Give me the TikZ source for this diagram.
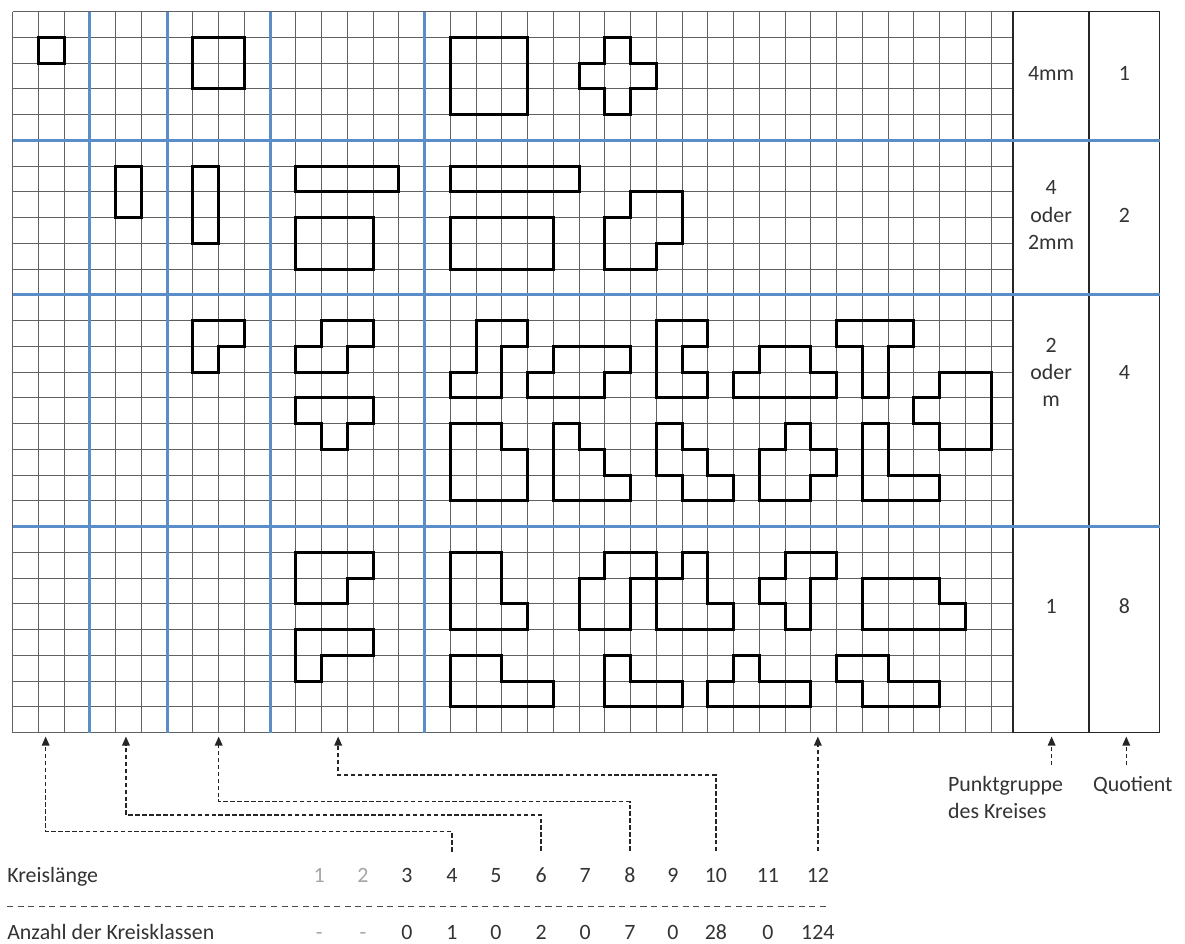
\documentclass[tikz,border=0pt]{standalone}
\usepackage{fontspec}
\setmainfont{Carlito}
\usetikzlibrary{arrows.meta}
\definecolor{linhaazul}{HTML}{5B8DC9}

\begin{document}
\begin{tikzpicture}[x=0.6cm, y=-0.6cm,
  grade/.style={draw=black!62, line width=0.6pt},
  azul/.style={draw=linhaazul, line width=2pt},
  peca/.style={draw=black, line width=1.9pt},
  seta/.style={draw=black!85, line width=1pt,
    dash pattern=on 3pt off 1.6pt,
    -{Triangle[length=6pt,width=5pt]}},
  rotulo/.style={inner sep=0pt, text=black!80,
    font=\fontsize{14.5}{18}\selectfont},
  cinza/.style={rotulo, text=black!35}]

% Fundo
\fill[white]
(-0.493,-0.454) rectangle (45.53,36.2);

% GRADE
\foreach \i in {0,...,38}
  \draw[grade] (\i,0) -- (\i,28);
\foreach \j in {0,...,28}
  \draw[grade] (0,\j) -- (38.85,\j);

% TABELA
\draw[black!85, line width=0.8pt]
(38.85,0) rectangle (44.55,28);
\draw[black!85, line width=0.8pt]
(41.8,0) -- (41.8,28);

% LINHAS AZUIS
\foreach \i in {3,6,10,16}
  \draw[azul] (\i,0) -- (\i,28);
\foreach \j in {5,11,20}
  \draw[azul] (0,\j) -- (44.55,\j);

% BLOCO 4mm
\draw[peca] (1,1) rectangle (2,2);
\draw[peca] (7,1) rectangle (9,3);
\draw[peca] (17,1) rectangle (20,4);
\draw[peca] (23,1) -- (24,1) -- (24,2) -- (25,2) -- (25,3) -- (24,3)
  -- (24,4) -- (23,4) -- (23,3) -- (22,3) -- (22,2) -- (23,2) -- cycle;

% BLOCO 4 oder 2mm
\draw[peca] (4,6) rectangle (5,8);
\draw[peca] (7,6) rectangle (8,9);
\draw[peca] (11,6) rectangle (15,7);
\draw[peca] (11,8) rectangle (14,10);
\draw[peca] (17,6) rectangle (22,7);
\draw[peca] (17,8) rectangle (21,10);
\draw[peca] (24,7) -- (26,7) -- (26,9) -- (25,9) -- (25,10) -- (23,10)
  -- (23,8) -- (24,8) -- cycle;

% BLOCO 2 oder m
\draw[peca] (7,12) -- (9,12) -- (9,13) -- (8,13) -- (8,14) -- (7,14) -- cycle;
\draw[peca] (12,12) -- (14,12) -- (14,13) -- (13,13) -- (13,14) -- (11,14)
  -- (11,13) -- (12,13) -- cycle;
\draw[peca] (11,15) -- (14,15) -- (14,16) -- (13,16) -- (13,17) -- (12,17)
  -- (12,16) -- (11,16) -- cycle;
\draw[peca] (18,12) -- (20,12) -- (20,13) -- (19,13) -- (19,15) -- (17,15)
  -- (17,14) -- (18,14) -- cycle;
\draw[peca] (21,13) -- (24,13) -- (24,14) -- (23,14) -- (23,15) -- (20,15)
  -- (20,14) -- (21,14) -- cycle;
\draw[peca] (25,12) -- (27,12) -- (27,13) -- (26,13) -- (26,14) -- (27,14)
  -- (27,15) -- (25,15) -- cycle;
\draw[peca] (29,13) -- (31,13) -- (31,14) -- (32,14) -- (32,15) -- (28,15)
  -- (28,14) -- (29,14) -- cycle;
\draw[peca] (32,12) -- (35,12) -- (35,13) -- (34,13) -- (34,15) -- (33,15)
  -- (33,13) -- (32,13) -- cycle;
\draw[peca] (36,14) -- (38,14) -- (38,17) -- (36,17) -- (36,16) -- (35,16)
  -- (35,15) -- (36,15) -- cycle;
\draw[peca] (17,16) -- (19,16) -- (19,17) -- (20,17) -- (20,19) -- (17,19) -- cycle;
\draw[peca] (21,16) -- (22,16) -- (22,17) -- (23,17) -- (23,18) -- (24,18)
  -- (24,19) -- (21,19) -- cycle;
\draw[peca] (25,16) -- (26,16) -- (26,17) -- (27,17) -- (27,18) -- (28,18)
  -- (28,19) -- (26,19) -- (26,18) -- (25,18) -- cycle;
\draw[peca] (30,16) -- (31,16) -- (31,17) -- (32,17) -- (32,18) -- (31,18)
  -- (31,19) -- (29,19) -- (29,17) -- (30,17) -- cycle;
\draw[peca] (33,16) -- (34,16) -- (34,18) -- (36,18) -- (36,19) -- (33,19) -- cycle;

% BLOCO 1
\draw[peca] (11,21) -- (14,21) -- (14,22) -- (13,22) -- (13,23) -- (11,23) -- cycle;
\draw[peca] (11,24) -- (14,24) -- (14,25) -- (12,25) -- (12,26) -- (11,26) -- cycle;
\draw[peca] (17,21) -- (19,21) -- (19,23) -- (20,23) -- (20,24) -- (17,24) -- cycle;
\draw[peca] (23,21) -- (25,21) -- (25,22) -- (24,22) -- (24,24) -- (22,24)
  -- (22,22) -- (23,22) -- cycle;
\draw[peca] (26,21) -- (27,21) -- (27,23) -- (28,23) -- (28,24) -- (25,24)
  -- (25,22) -- (26,22) -- cycle;
\draw[peca] (30,21) -- (32,21) -- (32,22) -- (31,22) -- (31,24) -- (30,24)
  -- (30,23) -- (29,23) -- (29,22) -- (30,22) -- cycle;
\draw[peca] (33,22) -- (36,22) -- (36,23) -- (37,23) -- (37,24) -- (33,24) -- cycle;
\draw[peca] (17,25) -- (19,25) -- (19,26) -- (21,26) -- (21,27) -- (17,27) -- cycle;
\draw[peca] (23,25) -- (24,25) -- (24,26) -- (26,26) -- (26,27) -- (23,27) -- cycle;
\draw[peca] (28,25) -- (29,25) -- (29,26) -- (31,26) -- (31,27) -- (27,27)
  -- (27,26) -- (28,26) -- cycle;
\draw[peca] (32,25) -- (34,25) -- (34,26) -- (36,26) -- (36,27) -- (33,27)
  -- (33,26) -- (32,26) -- cycle;

% TEXTOS DA TABELA
\node[rotulo] (pg1) at (40.33,2.4) {4mm};
\node[rotulo] (q1) at (43.18,2.4) {1};
\node[rotulo, align=center] (pg2) at (40.33,7.9) {4\\oder\\2mm};
\node[rotulo] (q2) at (43.18,7.9) {2};
\node[rotulo, align=center] (pg3) at (40.33,14.0) {2\\oder\\m};
\node[rotulo] (q3) at (43.18,14.0) {4};
\node[rotulo] (pg4) at (40.33,23.1) {1};
\node[rotulo] (q4) at (43.18,23.1) {8};

% LEGENDA
\node[rotulo, anchor=base west] (kl) at (-0.22,33.82) {Kreislänge};
\node[rotulo, anchor=base west] (ak) at (-0.22,36.05) {Anzahl der Kreisklassen};
\node[cinza, anchor=base] (n1) at (11.90,33.82) {1};
\node[cinza, anchor=base] (n2) at (13.60,33.82) {2};
\node[cinza, anchor=base] (a1) at (11.90,36.05) {-};
\node[cinza, anchor=base] (a2) at (13.60,36.05) {-};
\foreach \n/\x/\a in {3/15.31/0, 4/17.06/1, 5/18.77/0, 6/20.52/2,
  7/22.23/0, 8/23.97/7, 9/25.64/0, 10/27.31/28, 11/29.33/0, 12/31.27/124}
{
  \node[rotulo, anchor=base] (n\n) at (\x,33.82) {\n};
  \node[rotulo, anchor=base] (a\n) at (\x,36.05) {\a};
}
\draw[black!70, line width=0.9pt, dash pattern=on 4pt off 3pt]
(kl.west |- 0,34.76) -- (31.74,34.76);

\node[rotulo, anchor=north west, align=left] (pg) at (36.32,29.68)
{Punktgruppe\\des Kreises};
\node[rotulo, anchor=north west] (quo) at (41.95,29.68) {Quotient};

% SETAS
\coordinate (t4) at (1.28,28.15);
\coordinate (c4) at (1.28,31.84);
\coordinate (t6) at (4.40,28.15);
\coordinate (c6) at (4.40,31.20);
\coordinate (t8) at (8.00,28.15);
\coordinate (c8) at (8.00,30.68);
\coordinate (t10) at (12.64,28.15);
\coordinate (c10) at (12.64,29.64);
\coordinate (t12) at (n12.north |- 0,28.15);
\coordinate (tA) at (40.35,28.15);
\coordinate (tB) at (43.25,28.15);

\draw[seta, shorten <=11pt] (n4.north) |- (c4) -- (t4);
\draw[seta, shorten <=11pt] (n6.north) |- (c6) -- (t6);
\draw[seta, shorten <=11pt] (n8.north) |- (c8) -- (t8);
\draw[seta, shorten <=11pt] (n10.north) |- (c10) -- (t10);
\draw[seta, shorten <=11pt] (n12.north) -- (t12);
\draw[seta, shorten <=7pt] (tA |- pg.north) -- (tA);
\draw[seta, shorten <=7pt] (tB |- quo.north) -- (tB);

\end{tikzpicture}
\end{document}
